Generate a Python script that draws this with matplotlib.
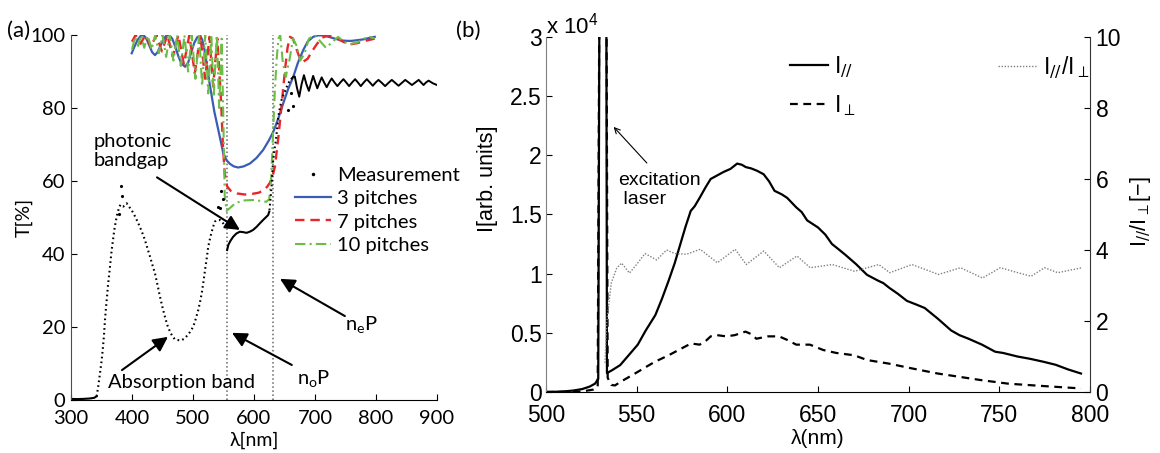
import matplotlib
matplotlib.use('Agg')
import matplotlib.pyplot as plt
from matplotlib.lines import Line2D

# ---------------- panel (a): transmission ----------------
# measurement, solid-looking runs
base_x = [300, 310, 320, 330, 338, 342]
base_y = [0.3, 0.25, 0.3, 0.4, 0.6, 1.0]
gap_x = [556, 558, 561, 565.8, 571, 576.7, 582, 587.7, 593, 598.6, 604, 609.6, 616, 621, 623.3, 625]
gap_y = [41.1, 42.5, 43.5, 44.7, 45.6, 46.1, 46.0, 45.8, 46.1, 46.6, 47.4, 48.4, 49.5, 50.3, 50.7, 51.6]
tail_x = [662, 664.5, 667, 670.5, 674.2, 678, 681.9, 686, 690, 693.5, 697, 700.5, 703.8, 707.5, 711, 715,
          719.2, 723.3, 727.4, 732, 736.7, 741.6, 746.6, 751.2, 755.9, 760.8, 765.8, 770.4, 775.1, 780,
          785, 790, 794.8, 799.5, 804.1, 809.5, 815, 820.5, 826, 831.5, 837, 842.5, 848, 853.5, 859,
          864.5, 870, 874, 878, 882, 886.3, 893, 900]
tail_y = [88.1, 88.6, 88.6, 85.5, 83.1, 86.5, 89.0, 86.5, 84.7, 86.8, 88.8, 87.0, 85.4, 87.0, 88.4, 87.0,
          85.7, 87.0, 88.1, 87.0, 86.0, 87.0, 87.9, 87.0, 86.0, 87.0, 87.9, 87.0, 86.0, 87.0,
          87.9, 87.0, 86.1, 87.0, 87.7, 86.9, 86.0, 86.9, 87.7, 86.9, 86.1, 86.9, 87.7, 87.0, 86.3,
          87.0, 87.7, 87.0, 86.3, 87.0, 87.5, 86.8, 86.3]
# measurement, dotted runs
dotl_x = [342, 344.5, 347.5, 350, 352, 354, 355.7, 357.5, 359.5, 361, 362.8, 364.8, 366.7, 369, 371,
          373.5, 376, 378.5, 381, 383.5, 385.8, 388.5, 391.3, 395, 399.5, 405, 410.4, 416, 421.3, 425.5,
          429.5, 433.5, 437.7, 442, 445.9, 450, 454, 458, 462.3, 466.5, 470.5, 476, 481.5, 485.5, 489.7,
          495, 500.5, 504.5, 508.7, 511.5, 514.3, 517, 519.7, 522.5, 525, 528, 530.7, 533.5, 536, 540,
          544.3, 548, 551, 554]
dotl_y = [1.0, 3.5, 7.3, 10.5, 13.7, 17.5, 21.9, 25.5, 29.2, 32.0, 34.7, 38.0, 41.1, 44.0, 46.6,
          49.0, 51.1, 52.5, 53.5, 53.2, 53.0, 53.5, 53.9, 53.0, 52.0, 50.3, 48.4, 46.2, 43.8, 41.5,
          39.3, 37.0, 34.7, 31.4, 28.3, 25.4, 22.8, 20.5, 18.7, 17.4, 16.6, 16.4, 16.4, 16.8, 17.5,
          18.6, 20.1, 22.2, 24.7, 26.8, 29.2, 32.2, 35.6, 38.8, 42.0, 44.3, 46.1, 47.7, 48.9, 49.3,
          49.3, 48.8, 48.0, 47.5]
dotr_x = [625.5, 627, 628.8, 630, 631.5, 633.5, 636, 638, 639.8, 642.5, 645.2, 648, 650.7, 653.5, 656.2, 659, 662]
dotr_y = [52, 55, 58.4, 62, 65.8, 68.5, 71.2, 74.5, 77.6, 80, 82.2, 83.5, 84.5, 85.7, 86.8, 87.5, 88.1]
outl_x = [382.5, 384, 379.5, 541, 544, 546.5, 549, 656, 660, 664]
outl_y = [58.5, 55.8, 51.0, 53.0, 52.5, 57.3, 55.0, 79.5, 84.0, 80.5]

# simulations
p3_x = [399.5, 404, 409, 414, 418.5, 423, 428, 433, 437.7, 442, 447, 452, 456, 461, 466, 471, 476, 481,
        487, 492, 497, 502, 507, 511.5, 515, 519, 523, 527, 531, 535, 541.5, 549.7, 555, 560.6, 567,
        574, 583, 593.4, 604, 615, 624, 631.7, 640, 648, 656, 664.5, 672, 680.8, 688, 697, 705, 714,
        724.6, 735, 745, 752, 760, 770, 779, 789, 798]
p3_y = [95.0, 96.8, 98.6, 99.7, 100, 99.2, 97.3, 95.3, 94.5, 95.3, 97.2, 98.9, 99.8, 100, 99.0, 96.8,
        94.2, 92.2, 91.3, 92.4, 95.2, 97.8, 99.4, 99.8, 98.8, 95.8, 91.5, 87.0, 83.0, 79.0, 74.0, 67.6,
        65.7, 64.7, 64.0, 63.7, 64.0, 64.8, 66.3, 68.5, 71.0, 73.5, 77.2, 81.3, 85.2, 88.6, 92.4, 95.9,
        98.2, 99.5, 99.9, 99.9, 99.4, 98.9, 98.5, 98.4, 98.4, 98.6, 98.8, 99.2, 99.5]
p7_x = [400, 406, 414, 422, 431, 440, 449, 458, 467, 476, 485, 494, 503, 512, 520, 527, 533, 540,
        546, 549, 552, 556, 562, 572, 585, 598, 608, 616, 622, 626, 630, 634.4, 640, 645.4, 650.8,
        655, 659, 664, 670, 676, 681, 688, 695, 703, 712, 722, 732, 742, 752, 760, 770, 780, 790, 798]
p7_y = [98.2, 100, 97.6, 100, 96.8, 100, 95.5, 100, 94.0, 100, 92.0, 100, 89.5, 100, 88.0, 99.5,
        86.0, 99.0, 82.0, 70.0, 62.0, 58.5, 57.3, 56.6, 56.3, 56.5, 56.8, 57.5, 58.5, 59.5, 61.0, 64.0,
        72.0, 81.0, 90.4, 96.5, 99.5, 99.0, 96.0, 93.2, 92.7, 93.5, 95.5, 97.5, 99.3, 99.9, 99.5,
        98.5, 97.7, 97.5, 97.8, 98.3, 98.7, 99.0]
p10_x = [400, 405, 410, 415, 420, 426, 432, 438, 444, 450, 456, 462, 468, 474, 480, 486, 492, 498, 504,
         510, 515, 520, 525, 530, 534, 539, 543, 547, 550, 552, 555, 560, 570, 585, 600, 612, 620, 625,
         628, 631, 634, 637, 640, 643, 647, 652, 658, 664, 670, 676, 683, 690, 700, 710, 718, 728, 738,
         748, 758, 770, 780, 790, 798]
p10_y = [96.0, 99.5, 97.0, 100, 96.5, 99.8, 96.0, 100, 95.0, 100, 94.0, 100, 93.0, 100, 91.5, 100,
         90.0, 100, 88.0, 100, 86.0, 100, 84.0, 100, 83.0, 100, 80.0, 99.0, 75.0, 56.0, 51.8, 52.5,
         54.0, 54.7, 54.8, 54.5, 54.3, 55.0, 60.0, 72.0, 84.0, 93.0, 99.0, 100, 93.0, 88.5, 93.0,
         99.0, 97.0, 93.0, 95.0, 99.0, 100, 98.0, 96.5, 98.0, 99.5, 98.0, 97.5, 98.0, 99.0, 99.5, 99.0]
band_edges = [555.5, 631.5]

# ---------------- panel (b): emission (x 10^4) ----------------
par_x = [500, 505, 510, 515, 520, 524, 527, 528.8, 529.6, 533.2, 533.6, 536, 540.9, 545, 550.6, 555,
         560.3, 564, 567.6, 571, 573.7, 577, 579.8, 582, 584.7, 588, 590.8, 595.6, 598, 601.7, 605.4,
         608, 610.2, 613, 616.3, 620, 623, 626, 630, 633, 638, 641, 644, 650, 654, 657.7, 661, 665,
         671, 677, 683.2, 686, 689.3, 694, 699, 704, 708.8, 712, 716, 723.4, 728, 733, 740.4, 747.7,
         752, 759.9, 767, 774.4, 781, 788, 795]
par_y = [0, 0.002, 0.005, 0.012, 0.025, 0.045, 0.07, 0.11, 4, 4, 0.16, 0.18, 0.227, 0.30, 0.40, 0.52,
         0.65, 0.79, 0.94, 1.09, 1.23, 1.40, 1.53, 1.57, 1.64, 1.73, 1.80, 1.84, 1.86, 1.885, 1.93,
         1.92, 1.90, 1.89, 1.87, 1.84, 1.78, 1.70, 1.67, 1.64, 1.56, 1.52, 1.45, 1.39, 1.33, 1.25,
         1.21, 1.16, 1.08, 0.99, 0.94, 0.92, 0.88, 0.83, 0.77, 0.74, 0.71, 0.67, 0.62, 0.52, 0.48,
         0.45, 0.40, 0.34, 0.33, 0.30, 0.28, 0.255, 0.23, 0.19, 0.156]
perp_x = [500, 510, 518, 522, 526, 528.5, 529.6, 533.2, 534, 536, 538, 541, 545, 550.6, 555, 560,
          567.6, 575, 580, 584.7, 588, 590.8, 594.4, 599.3, 604, 610, 613, 616, 622.4, 628.5, 633,
          638, 645.5, 652.8, 660, 670, 677, 689, 701.5, 716, 728, 740, 755, 774.4, 795]
perp_y = [0, 0.001, 0.004, 0.01, 0.02, 0.04, 4, 4, 0.12, 0.06, 0.055, 0.085, 0.12, 0.17, 0.21, 0.255,
          0.31, 0.37, 0.41, 0.40, 0.43, 0.47, 0.48, 0.47, 0.48, 0.51, 0.49, 0.45, 0.47, 0.47, 0.44,
          0.40, 0.40, 0.355, 0.33, 0.31, 0.27, 0.24, 0.20, 0.156, 0.128, 0.10, 0.07, 0.05, 0.03]
ratio_x = [532.5, 533.6, 536, 539, 541.7, 546, 549, 554.6, 561, 566.5, 571, 577.5, 585, 594.5, 604.3,
           610.4, 620.1, 628.7, 638.4, 645.7, 657.9, 670.1, 683.5, 689.6, 701.8, 706.6, 716.4, 728.6,
           740.7, 750.5, 760.2, 767.5, 774.9, 782.2, 795.6]
ratio_y = [0.82, 2.03, 3.07, 3.49, 3.63, 3.35, 3.53, 3.90, 3.72, 4.00, 3.90, 3.88, 4.02, 3.64, 4.02,
           3.59, 3.97, 3.50, 3.83, 3.50, 3.59, 3.40, 3.59, 3.36, 3.59, 3.50, 3.31, 3.50, 3.21, 3.50,
           3.36, 3.26, 3.50, 3.36, 3.50]

fa = 'Lato'
fb = 'Liberation Sans'
blue, red, green = '#3a5cb4', '#e8262c', '#6cbd45'

fig = plt.figure(figsize=(11.6, 4.53), dpi=100)

# ---------------- (a) ----------------
ax = fig.add_axes([0.0612, 0.1170, 0.3155, 0.8057])
for xv in band_edges:
    ax.axvline(xv, color='0.4', ls=':', lw=1.1)
ax.plot(p3_x, p3_y, color=blue, lw=1.6)
ax.plot(p7_x, p7_y, color=red, lw=1.7, ls=(0, (4, 2.5)))
ax.plot(p10_x, p10_y, color=green, lw=1.5, ls=(0, (5, 2, 1, 2)))
ax.plot(base_x, base_y, color='k', lw=1.5)
ax.plot(gap_x, gap_y, color='k', lw=1.5)
ax.plot(tail_x, tail_y, color='k', lw=1.4)
ax.plot(dotl_x, dotl_y, color='k', lw=1.5, ls=(0, (0.8, 1.5)))
ax.plot(dotr_x, dotr_y, color='k', lw=1.5, ls=(0, (0.8, 1.5)))
ax.plot(outl_x, outl_y, 'k.', ms=2.5)

ax.set_xlim(300, 900)
ax.set_ylim(0, 100)
ax.set_xticks(range(300, 901, 100))
ax.set_xticklabels([str(v) for v in range(300, 901, 100)], fontfamily=fa, fontsize=14.5)
ax.set_yticks(range(0, 101, 20))
ax.set_yticklabels([str(v) for v in range(0, 101, 20)], fontfamily=fa, fontsize=14.5)
ax.tick_params(direction='in', length=4, width=0.8)
ax.tick_params(axis='x', pad=7.5)
ax.tick_params(axis='y', pad=4)
ax.spines['top'].set_visible(False)
ax.spines['right'].set_visible(False)
ax.spines['left'].set_color('0.3')
ax.set_xlabel('λ[nm]', fontfamily=fa, fontsize=14)
ax.xaxis.set_label_coords(0.5, -0.088)
ax.set_ylabel('T[%]', fontfamily=fa, fontsize=14)
ax.yaxis.set_label_coords(-0.105, 0.5)

hnd = [Line2D([], [], color='k', marker='.', ls='none', ms=3),
       Line2D([], [], color=blue, lw=1.6),
       Line2D([], [], color=red, lw=1.7, ls=(0, (4, 2.5))),
       Line2D([], [], color=green, lw=1.5, ls=(0, (5, 2, 1, 2)))]
ax.legend(hnd, ['Measurement', '3 pitches', '7 pitches', '10 pitches'],
          loc='upper left', bbox_to_anchor=(0.612, 0.638), frameon=False,
          prop={'family': fa, 'size': 14.5}, handlelength=1.8, handletextpad=0.3,
          labelspacing=0.3, borderpad=0, borderaxespad=0)

arr = dict(arrowstyle='-|>', mutation_scale=22, lw=1.5, color='k', shrinkA=0, shrinkB=0)
ax.annotate('', xy=(577, 46.6), xytext=(441, 61), arrowprops=arr)
ax.annotate('', xy=(459, 17.3), xytext=(383.6, 8.2), arrowprops=arr)
ax.annotate('', xy=(563.9, 18.4), xytext=(662, 9.6), arrowprops=arr)
ax.annotate('', xy=(642.6, 33.2), xytext=(749, 23), arrowprops=arr)
ax.text(337.7, 68.2, 'photonic\nbandgap', fontfamily=fa, fontsize=14.5, ha='left', va='center',
        linespacing=1.1)
ax.text(360.7, 4.9, 'Absorption band', fontfamily=fa, fontsize=14.5, ha='left', va='center')
ax.text(670.5, 6.0, r'n$\mathregular{_o}$P', fontfamily=fa, fontsize=14.5, ha='left', va='center')
ax.text(749, 20.8, r'n$\mathregular{_e}$P', fontfamily=fa, fontsize=14.5, ha='left', va='center')
fig.text(0.006, 0.918, '(a)', fontfamily=fa, fontsize=16)

# ---------------- (b) ----------------
bx = fig.add_axes([0.4707, 0.1347, 0.4690, 0.7837])
bx.plot(par_x, par_y, color='k', lw=1.6)
bx.plot(perp_x, perp_y, color='k', lw=1.6, ls=(0, (3.5, 2.5)))
bx.set_xlim(500, 800)
bx.set_ylim(0, 3)
b2 = bx.twinx()
b2.plot(ratio_x, ratio_y, color='0.5', lw=1.0, ls=(0, (1, 1.2)))
b2.set_ylim(0, 10)

bx.set_xticks(range(500, 801, 50))
bx.set_xticklabels([str(v) for v in range(500, 801, 50)], fontfamily=fb, fontsize=16.5)
bx.set_yticks([0, 0.5, 1, 1.5, 2, 2.5, 3])
bx.set_yticklabels(['0', '0.5', '1', '1.5', '2', '2.5', '3'], fontfamily=fb, fontsize=16.5)
bx.tick_params(direction='in', length=4, width=0.8)
bx.tick_params(axis='x', pad=9)
bx.tick_params(axis='y', pad=3)
bx.spines['top'].set_visible(False)
bx.spines['right'].set_visible(False)
bx.spines['left'].set_color('0.5')
bx.set_xlabel('λ(nm)', fontfamily=fb, fontsize=15)
bx.xaxis.set_label_coords(0.5, -0.105)
bx.set_ylabel('I[arb. units]', fontfamily=fb, fontsize=15.5)
bx.yaxis.set_label_coords(-0.088, 0.6)

b2.set_yticks(range(0, 11, 2))
b2.set_yticklabels([str(v) for v in range(0, 11, 2)], fontfamily=fb, fontsize=16.5)
b2.tick_params(direction='in', length=4, width=0.8, pad=4)
for s in ['top', 'left', 'bottom']:
    b2.spines[s].set_visible(False)
b2.spines['right'].set_color('0.2')
b2.set_ylabel(r'I$_{//}$/I$_{\perp}$[−]', fontfamily=fb, fontsize=15.5)
b2.yaxis.set_label_coords(1.07, 0.507)

leg1 = b2.legend([Line2D([], [], color='k', lw=1.6), Line2D([], [], color='k', lw=1.6, ls=(0, (3.5, 2.5)))],
                 [r'I$_{//}$', r'I$_{\perp}$'], loc='upper left', bbox_to_anchor=(0.4485, 0.95),
                 frameon=False, prop={'family': fb, 'size': 16.5}, handlelength=1.65,
                 handletextpad=0.25, labelspacing=0.55, borderpad=0, borderaxespad=0)
b2.add_artist(leg1)
b2.legend([Line2D([], [], color='0.5', lw=1.0, ls=(0, (1, 1.2)))], [r'I$_{//}$/I$_{\perp}$'],
          loc='upper left', bbox_to_anchor=(0.831, 0.95), frameon=False,
          prop={'family': fb, 'size': 16.5}, handlelength=1.7, handletextpad=0.25,
          borderpad=0, borderaxespad=0)

bx.annotate('', xy=(537.3, 2.24), xytext=(555.6, 1.935),
            arrowprops=dict(arrowstyle='->', lw=0.8, color='k', shrinkA=0, shrinkB=0,
                            mutation_scale=10))
bx.text(539.7, 1.705, 'excitation\n laser', fontfamily=fb, fontsize=14, ha='left', va='center',
        linespacing=1.15)
fig.text(0.4707, 0.926, r'x 10$^{\mathregular{4}}$', fontfamily=fb, fontsize=16)
fig.text(0.393, 0.918, '(b)', fontfamily=fa, fontsize=16)

fig.savefig('out.png', dpi=100)
